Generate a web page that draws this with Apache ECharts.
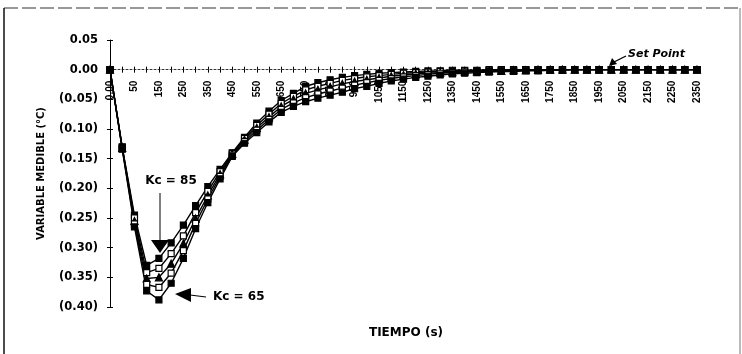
<!DOCTYPE html>
<html><head><meta charset="utf-8">
<script src="https://cdn.jsdelivr.net/npm/echarts@6/dist/echarts.min.js"></script>
<style>html,body{margin:0;padding:0;background:#fff;}#c{width:742px;height:354px;}</style>
</head><body><div id="c"></div>
<script>
var categories = ['0.00','25','50','100','150','200','250','300','350','400','450','500','550','600','650','700','750','800','850','900','950','1000','1050','1100','1150','1200','1250','1300','1350','1400','1450','1500','1550','1600','1650','1700','1750','1800','1850','1900','1950','2000','2050','2100','2150','2200','2250','2300','2350'];
var yTickValues = [0.05, 0, -0.05, -0.10, -0.15, -0.20, -0.25, -0.30, -0.35, -0.40];
var yTickLabels = ['0.05','0.00','(0.05)','(0.10)','(0.15)','(0.20)','(0.25)','(0.30)','(0.35)','(0.40)'];
var kc85 = [0,-0.130,-0.245,-0.330,-0.318,-0.292,-0.262,-0.229,-0.197,-0.168,-0.140,-0.114,-0.090,-0.070,-0.052,-0.040,-0.028,-0.022,-0.017,-0.013,-0.010,-0.008,-0.006,-0.005,-0.004,-0.003,-0.002,-0.002,-0.001,-0.001,-0.001,0,0,0,0,0,0,0,0,0,0,0,0,0,0,0,0,0,0];
var kc80 = [0,-0.131,-0.250,-0.342,-0.335,-0.310,-0.280,-0.241,-0.205,-0.172,-0.141,-0.116,-0.094,-0.075,-0.057,-0.045,-0.034,-0.028,-0.023,-0.018,-0.015,-0.012,-0.010,-0.008,-0.006,-0.005,-0.004,-0.003,-0.003,-0.002,-0.002,-0.001,-0.001,-0.001,0,0,0,0,0,0,0,0,0,0,0,0,0,0,0];
var kc75 = [0,-0.132,-0.255,-0.352,-0.350,-0.327,-0.293,-0.251,-0.212,-0.176,-0.142,-0.118,-0.098,-0.080,-0.062,-0.050,-0.040,-0.034,-0.029,-0.024,-0.020,-0.017,-0.014,-0.011,-0.009,-0.007,-0.006,-0.005,-0.004,-0.003,-0.003,-0.002,-0.002,-0.001,-0.001,0,0,0,0,0,0,0,0,0,0,0,0,0,0];
var kc70 = [0,-0.133,-0.260,-0.362,-0.367,-0.343,-0.305,-0.259,-0.218,-0.180,-0.144,-0.121,-0.102,-0.084,-0.067,-0.056,-0.047,-0.041,-0.036,-0.031,-0.026,-0.022,-0.018,-0.015,-0.012,-0.010,-0.008,-0.006,-0.005,-0.004,-0.003,-0.003,-0.002,-0.002,-0.001,-0.001,0,0,0,0,0,0,0,0,0,0,0,0,0];
var kc65 = [0,-0.134,-0.265,-0.373,-0.388,-0.360,-0.318,-0.268,-0.224,-0.184,-0.146,-0.124,-0.106,-0.088,-0.072,-0.062,-0.054,-0.048,-0.043,-0.038,-0.032,-0.028,-0.023,-0.019,-0.016,-0.013,-0.011,-0.009,-0.007,-0.006,-0.005,-0.004,-0.003,-0.003,-0.002,-0.002,-0.001,-0.001,0,0,0,0,0,0,0,0,0,0,0];

var yMin = -0.4, yMax = 0.05;
var gridTop = 40, gridBottom = 47, chartH = 354;
var plotH = chartH - gridTop - gridBottom;
// distance of the zero line above the bottom edge of the grid
var zeroOffset = -plotH * (0 - yMin) / (yMax - yMin);

var chart = echarts.init(document.getElementById('c'), null, {renderer:'canvas'});
function yFmt(v){
  for (var i=0;i<yTickValues.length;i++){ if (Math.abs(v-yTickValues[i])<1e-9) return yTickLabels[i]; }
  return '';
}
function mk(name, data, symbol, fill){
  return {
    name: name, type:'line', data: data, xAxisIndex:0, yAxisIndex:0,
    symbol: symbol, symbolSize: symbol==='triangle'?7:6, showSymbol:true,
    lineStyle:{color:'#000', width:1.4},
    itemStyle:{color: fill, borderColor:'#000', borderWidth:1.2},
    animation:false, z: 3
  };
}
chart.setOption({
  animation:false,
  backgroundColor:'#fff',
  grid:{left:110, right:45, top:gridTop, bottom:gridBottom, containLabel:false},
  xAxis:[{
    type:'category', data:categories, boundaryGap:false, position:'bottom', offset: zeroOffset,
    axisLine:{onZero:false, lineStyle:{color:'#333', width:1, type:[2,2]}},
    axisTick:{show:true, interval:0, length:3, inside:false, lineStyle:{color:'#000'}},
    axisLabel:{interval:1, rotate:90, margin:11, color:'#000', fontSize:10, fontFamily:'Liberation Sans', fontWeight:'bold'},
    splitLine:{show:false}
  },{
    type:'category', data:categories, boundaryGap:false, position:'bottom', offset: zeroOffset,
    axisLine:{onZero:false, lineStyle:{opacity:0}},
    axisTick:{show:true, interval:0, length:3, inside:true, lineStyle:{color:'#000'}},
    axisLabel:{show:false}, splitLine:{show:false}
  }],
  yAxis:[{
    type:'value', min:yMin, max:yMax, interval:0.05, position:'left',
    axisLine:{show:true, onZero:false, lineStyle:{color:'#000', width:1}},
    axisTick:{show:true, length:3, lineStyle:{color:'#000'}},
    axisLabel:{formatter:yFmt, margin:12, color:'#000', fontSize:11.5, fontFamily:'DejaVu Sans', fontWeight:'bold'},
    splitLine:{show:false},
    name:'VARIABLE MEDIBLE (°C)', nameLocation:'middle', nameGap:64, nameRotate:90,
    nameTextStyle:{color:'#000', fontSize:10, fontFamily:'DejaVu Sans', fontWeight:'bold'}
  },{
    type:'value', min:yMin, max:yMax, interval:0.05, position:'left',
    axisLine:{show:false, onZero:false},
    axisTick:{show:true, length:3, inside:true, lineStyle:{color:'#000'}},
    axisLabel:{show:false}, splitLine:{show:false}
  }],
  series:[
    mk('Kc = 85', kc85, 'rect', '#000'),
    mk('Kc = 80', kc80, 'rect', '#fff'),
    mk('Kc = 75', kc75, 'triangle', '#000'),
    mk('Kc = 70', kc70, 'rect', '#fff'),
    mk('Kc = 65', kc65, 'rect', '#000')
  ],
  graphic:[
    {type:'line', shape:{x1:4,y1:8,x2:740,y2:8}, style:{stroke:'#333', lineWidth:1.2, lineDash:[14,4]}, silent:true},
    {type:'line', shape:{x1:4,y1:8,x2:4,y2:354}, style:{stroke:'#111', lineWidth:1.5}, silent:true},
    {type:'line', shape:{x1:740,y1:8,x2:740,y2:354}, style:{stroke:'#777', lineWidth:1}, silent:true},
    {type:'text', x:406, y:333, style:{text:'TIEMPO (s)', fill:'#000', font:'bold 12px "DejaVu Sans"', textAlign:'center', textVerticalAlign:'middle'}, z:10},
    {type:'text', x:171, y:181, style:{text:'Kc = 85', fill:'#000', font:'bold 12px "DejaVu Sans"', textAlign:'center', textVerticalAlign:'middle'}, z:10},
    {type:'line', shape:{x1:160,y1:193,x2:160,y2:241}, style:{stroke:'#000', lineWidth:1}, z:10},
    {type:'polygon', shape:{points:[[151,240],[169,240],[160,253]]}, style:{fill:'#000'}, z:10},
    {type:'polygon', shape:{points:[[175,294],[191,288],[191,302]]}, style:{fill:'#000'}, z:10},
    {type:'line', shape:{x1:190,y1:295,x2:206,y2:297}, style:{stroke:'#000', lineWidth:1.2}, z:10},
    {type:'text', x:213, y:297, style:{text:'Kc = 65', fill:'#000', font:'bold 12px "DejaVu Sans"', textAlign:'left', textVerticalAlign:'middle'}, z:10},
    {type:'text', x:628, y:54, style:{text:'Set Point', fill:'#000', font:'italic bold 11px "DejaVu Sans"', textAlign:'left', textVerticalAlign:'middle'}, z:10},
    {type:'line', shape:{x1:626,y1:56,x2:614,y2:62}, style:{stroke:'#000', lineWidth:1.3}, z:10},
    {type:'polygon', shape:{points:[[609,66],[612,58],[617,64]]}, style:{fill:'#000'}, z:10}
  ]
});
</script></body></html>
